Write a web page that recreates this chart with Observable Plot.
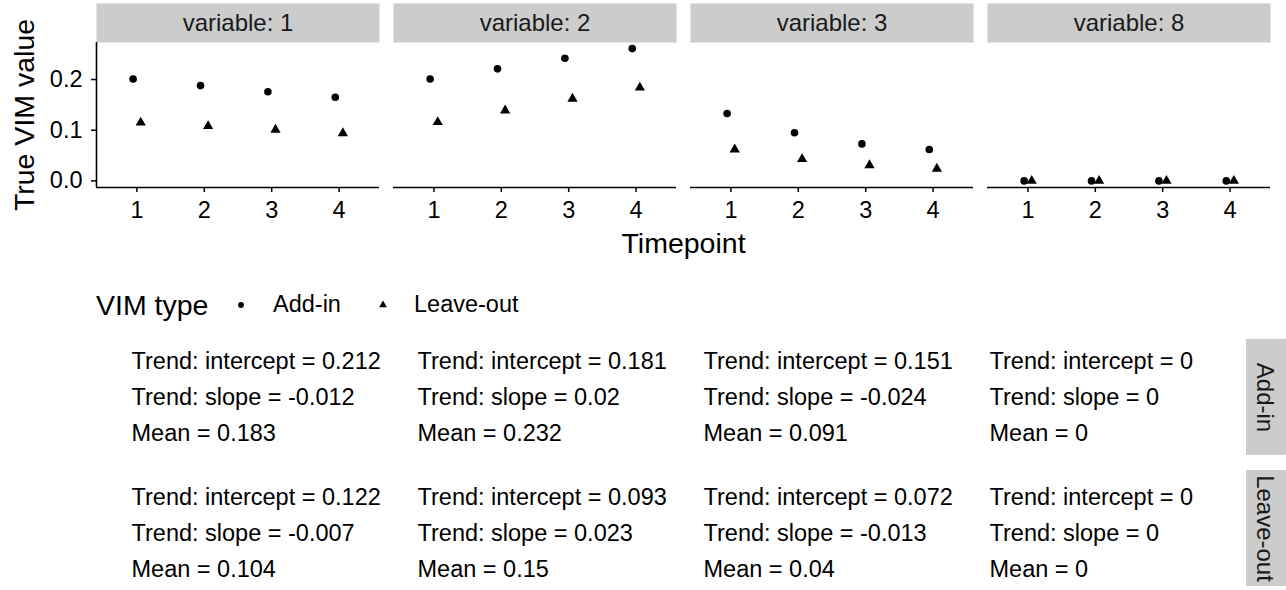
<!DOCTYPE html>
<html>
<head>
<meta charset="utf-8">
<script src="https://cdn.jsdelivr.net/npm/d3@7"></script>
<script src="https://cdn.jsdelivr.net/npm/@observablehq/plot@0.6"></script>
<style>
  html, body { margin: 0; padding: 0; background: #fff; }
  body { width: 1286px; font-family: "Liberation Sans", Arial, sans-serif; color: #000; }
  svg g[aria-label="x-axis label"], svg g[aria-label="y-axis label"] { font-size: 28.5px; }
  #legend { position: relative; height: 66px; font-size: 23.5px; }
  #legend .item { position: absolute; top: 50%; transform: translateY(-50%); white-space: nowrap; line-height: 1; }
  #legend .title { font-size: 28.5px; }
  #legend svg { display: block; }
</style>
</head>
<body>
<div id="top"></div>
<div id="legend"></div>
<div id="table"></div>
<script>
// ---------- data ----------
const variables = ["1", "2", "3", "8"];
const timepoints = [1, 2, 3, 4];
const vimTypes = ["Add-in", "Leave-out"];

// true VIM values per variable (rows) and timepoint (columns)
const addInValues = [
  [0.201, 0.188, 0.176, 0.165],
  [0.201, 0.221, 0.242, 0.261],
  [0.133, 0.095, 0.073, 0.062],
  [0, 0, 0, 0]
];
const leaveOutValues = [
  [0.115, 0.108, 0.101, 0.094],
  [0.116, 0.139, 0.162, 0.184],
  [0.062, 0.043, 0.031, 0.024],
  [0, 0, 0, 0]
];

// summary table labels
const addInIntercept = ["0.212", "0.181", "0.151", "0"];
const addInSlope = ["-0.012", "0.02", "-0.024", "0"];
const addInMean = ["0.183", "0.232", "0.091", "0"];
const leaveOutIntercept = ["0.122", "0.093", "0.072", "0"];
const leaveOutSlope = ["-0.007", "0.023", "-0.013", "0"];
const leaveOutMean = ["0.104", "0.15", "0.04", "0"];

const yTicks = [0, 0.1, 0.2];
const xDomain = [0.4, 4.6];
const yDomain = [-0.013, 0.273];

// ---------- build tables ----------
const addInRows = [];
const leaveOutRows = [];
variables.forEach((v, i) => timepoints.forEach((t, j) => {
  addInRows.push({variable: v, timepoint: t, type: "Add-in", value: addInValues[i][j]});
  leaveOutRows.push({variable: v, timepoint: t, type: "Leave-out", value: leaveOutValues[i][j]});
}));

const tableRows = [];
variables.forEach((v, i) => {
  tableRows.push({variable: v, type: "Add-in",
    text: `Trend: intercept = ${addInIntercept[i]}\nTrend: slope = ${addInSlope[i]}\nMean = ${addInMean[i]}`});
  tableRows.push({variable: v, type: "Leave-out",
    text: `Trend: intercept = ${leaveOutIntercept[i]}\nTrend: slope = ${leaveOutSlope[i]}\nMean = ${leaveOutMean[i]}`});
});

const FONT = '"Liberation Sans", Arial, sans-serif';

// ---------- top faceted plot ----------
const H = 272, MT = 42, MB = 85;
const panelH = H - MT - MB;
const topPlot = Plot.plot({
  width: 1286,
  height: H,
  marginTop: MT,
  marginBottom: MB,
  marginLeft: 95,
  marginRight: 16,
  style: {fontFamily: FONT, fontSize: "23.5px", color: "#000", background: "#fff"},
  fx: {domain: variables, paddingInner: 0.048, paddingOuter: 0, axis: null, label: null},
  x: {domain: xDomain, axis: null},
  y: {domain: yDomain, axis: null},
  marks: [
    Plot.frame({fill: "#CCCCCC", stroke: "none", insetTop: -39, insetBottom: panelH}),
    Plot.text(variables, {fx: d => d, text: d => `variable: ${d}`, frameAnchor: "top", dy: -19.5,
      textAnchor: "middle", lineAnchor: "middle", fontSize: 24, fill: "#1a1a1a"}),
    Plot.axisX({ticks: timepoints, tickSize: 5, tickPadding: 9, tickFormat: d => String(d),
      label: "Timepoint", labelAnchor: "center", labelOffset: 65, labelArrow: "none",
      fontSize: 23.5, strokeWidth: 1.5, fill: "#000"}),
    Plot.axisY({ticks: yTicks, tickSize: 5, tickPadding: 9, tickFormat: d3.format(".1f"),
      label: "True VIM value", labelAnchor: "center", labelOffset: 83, labelArrow: "none",
      fontSize: 23.5, strokeWidth: 1.5, fill: "#000"}),
    Plot.ruleY([yDomain[0]], {stroke: "#000", strokeWidth: 1.6}),
    Plot.ruleX([xDomain[0]], {fx: () => variables[0], stroke: "#000", strokeWidth: 1.6}),
    Plot.dot(addInRows, {fx: "variable", x: "timepoint", y: "value", symbol: "circle", r: 3.8,
      fill: "#000", dx: -3.8}),
    Plot.dot(leaveOutRows, {fx: "variable", x: "timepoint", y: "value", symbol: "triangle", r: 3.8,
      fill: "#000", dx: 3.8})
  ]
});
document.getElementById("top").appendChild(topPlot);

// ---------- legend ----------
const legend = document.getElementById("legend");
function addItem(html, left, cls) {
  const el = document.createElement("div");
  el.className = "item" + (cls ? " " + cls : "");
  el.style.left = left + "px";
  if (typeof html === "string") el.textContent = html; else el.appendChild(html);
  legend.appendChild(el);
}
function symbolSvg(type, size) {
  const s = 14;
  const svg = d3.create("svg").attr("width", s).attr("height", s)
    .attr("viewBox", `${-s / 2} ${-s / 2} ${s} ${s}`);
  svg.append("path").attr("d", d3.symbol(type, size)()).attr("fill", "#000");
  return svg.node();
}
addItem("VIM type", 96, "title");
addItem(symbolSvg(d3.symbolCircle, 26), 234);
addItem("Add-in", 273);
addItem(symbolSvg(d3.symbolTriangle, 26), 376);
addItem("Leave-out", 414);

// ---------- summary table ----------
const lastVar = variables[variables.length - 1];
const textOpts = {fx: "variable", fy: "type", text: "text", frameAnchor: "left", dx: 13,
  textAnchor: "start", lineAnchor: "middle", lineHeight: 36 / 23.5, fontSize: 23.5, fill: "#000"};
const tablePlot = Plot.plot({
  width: 1286,
  height: 252,
  marginTop: 0,
  marginBottom: 3,
  marginLeft: 118,
  marginRight: 54,
  style: {fontFamily: FONT, fontSize: "23.5px", color: "#000", background: "#fff"},
  fx: {domain: variables, paddingInner: 0.105, paddingOuter: 0, axis: null, label: null},
  fy: {domain: vimTypes, paddingInner: 0.113, paddingOuter: 0, axis: null, label: null},
  marks: [
    Plot.text(tableRows.filter(d => d.type === vimTypes[0]), {...textOpts, dy: -4}),
    Plot.text(tableRows.filter(d => d.type === vimTypes[1]), {...textOpts, dy: 1}),
    Plot.rect(vimTypes, {fx: () => lastVar, fy: d => d, fill: "#CCCCCC", insetLeft: 270, insetRight: -58}),
    Plot.text(vimTypes, {fx: () => lastVar, fy: d => d, text: d => d, frameAnchor: "right", dx: 32,
      textAnchor: "middle", rotate: 90, fontSize: 24, fill: "#1a1a1a"})
  ]
});
document.getElementById("table").appendChild(tablePlot);
</script>
</body>
</html>
